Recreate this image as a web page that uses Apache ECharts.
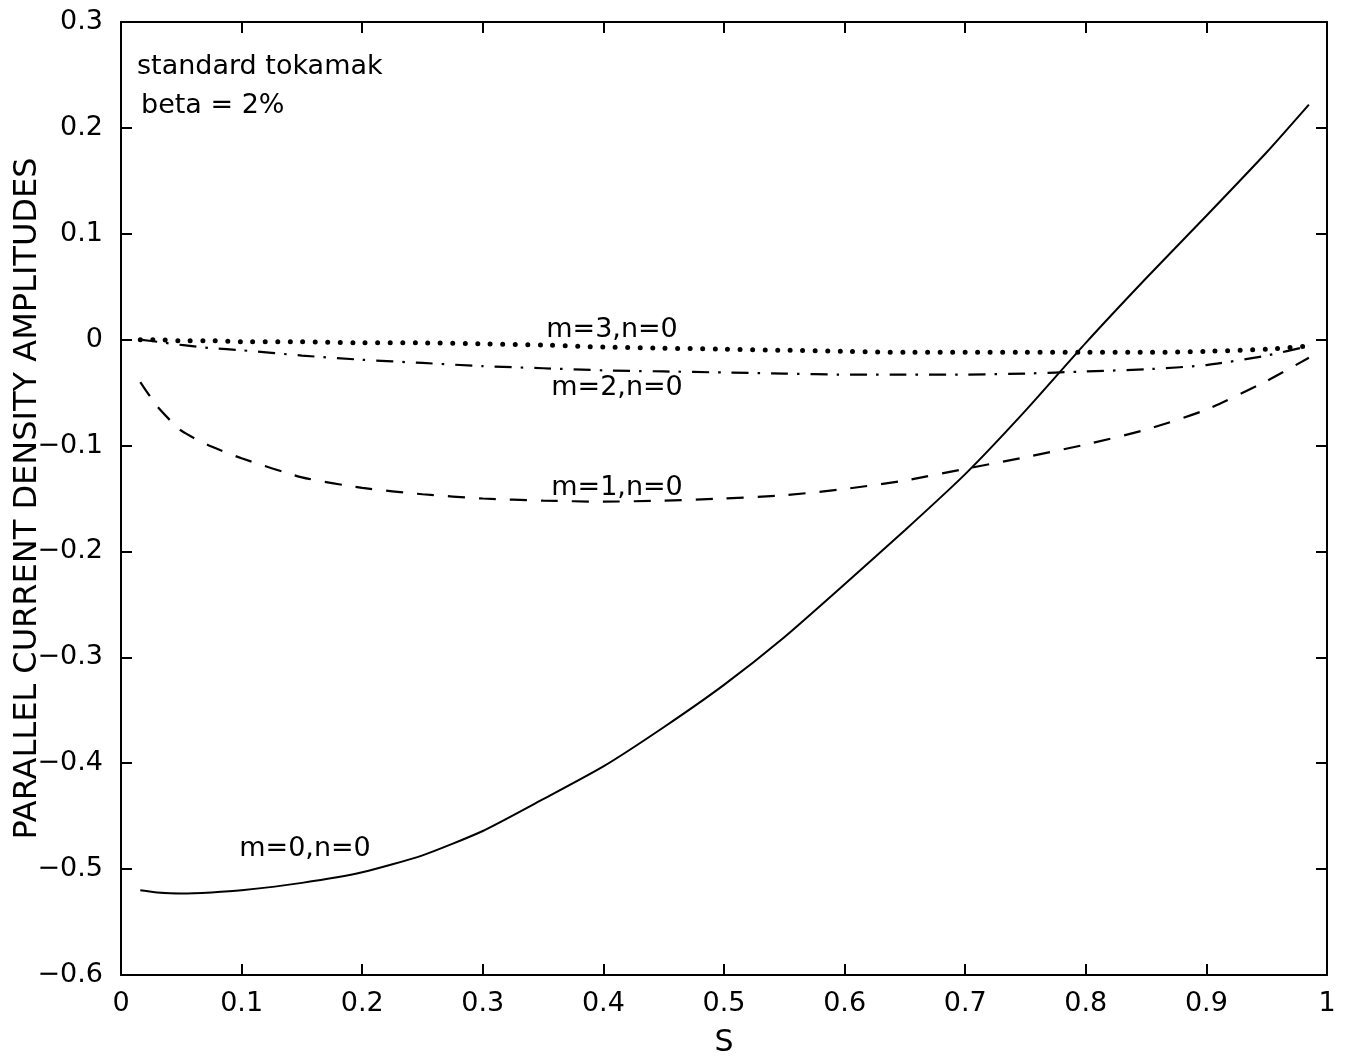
<!DOCTYPE html>
<html>
<head>
<meta charset="utf-8">
<script src="https://cdn.jsdelivr.net/npm/echarts@6/dist/echarts.min.js"></script>
<style>html,body{margin:0;padding:0;background:#fff}#c{width:1348px;height:1056px}</style>
</head>
<body>
<div id="c"></div>
<script>
// radial coordinate S
const sValues = [0.016,0.03,0.05,0.075,0.1,0.15,0.2,0.25,0.3,0.35,0.4,0.45,0.5,0.55,0.6,0.65,0.7,0.75,0.8,0.85,0.9,0.95,0.985];
// parallel current density amplitudes per harmonic
const m0n0 = [-0.520,-0.522,-0.523,-0.522,-0.520,-0.513,-0.503,-0.487,-0.464,-0.434,-0.403,-0.366,-0.326,-0.281,-0.231,-0.180,-0.127,-0.067,-0.003,0.058,0.117,0.177,0.222];
const m1n0 = [-0.040,-0.063,-0.086,-0.101,-0.112,-0.130,-0.140,-0.146,-0.150,-0.152,-0.153,-0.152,-0.150,-0.147,-0.141,-0.133,-0.122,-0.111,-0.099,-0.085,-0.066,-0.039,-0.017];
const m2n0 = [0.000,-0.002,-0.005,-0.008,-0.010,-0.015,-0.019,-0.022,-0.025,-0.027,-0.029,-0.030,-0.031,-0.032,-0.033,-0.033,-0.033,-0.032,-0.030,-0.028,-0.024,-0.015,-0.006];
const m3n0 = [0.000,0.000,-0.001,-0.001,-0.002,-0.002,-0.003,-0.003,-0.004,-0.005,-0.007,-0.008,-0.009,-0.010,-0.011,-0.012,-0.012,-0.012,-0.012,-0.012,-0.011,-0.009,-0.006];
const xTickLabels = ['0','0.1','0.2','0.3','0.4','0.5','0.6','0.7','0.8','0.9','1'];
const yTickLabels = ['−0.6','−0.5','−0.4','−0.3','−0.2','−0.1','0','0.1','0.2','0.3'];

const FONT = 'DejaVu Sans';
const pairs = arr => sValues.map((s, i) => [s, arr[i]]);
const xLabel = v => xTickLabels[Math.round(v * 10)];
const yLabel = v => yTickLabels[Math.round(v * 10) + 6];

const axisCommon = {
  axisLine: { show: true, onZero: false, lineStyle: { color: '#000', width: 2 } },
  axisTick: { show: true, inside: true, length: 11, lineStyle: { color: '#000', width: 2 } },
  splitLine: { show: false }
};

const chart = echarts.init(document.getElementById('c'), null, { renderer: 'canvas' });
const lineBase = { type: 'line', showSymbol: false, symbol: 'none', smooth: 0.2, z: 3 };
const textStyle = { fill: '#000', fontFamily: FONT, fontSize: 27 };

chart.setOption({
  animation: false,
  backgroundColor: '#fff',
  grid: { left: 121, right: 21, top: 22, bottom: 81, containLabel: false, outerBoundsMode: 'none' },
  xAxis: [
    Object.assign({}, axisCommon, {
      type: 'value', min: 0, max: 1, interval: 0.1, position: 'bottom',
      name: 'S', nameLocation: 'middle', nameGap: 53,
      nameTextStyle: { color: '#000', fontFamily: FONT, fontSize: 30 },
      axisLabel: { color: '#000', fontFamily: FONT, fontSize: 27, margin: 15, formatter: xLabel }
    }),
    Object.assign({}, axisCommon, {
      type: 'value', min: 0, max: 1, interval: 0.1, position: 'top',
      axisLabel: { show: false }
    })
  ],
  yAxis: [
    Object.assign({}, axisCommon, {
      type: 'value', min: -0.6, max: 0.3, interval: 0.1, position: 'left',
      name: 'PARALLEL CURRENT DENSITY AMPLITUDES', nameLocation: 'middle', nameGap: 77, nameRotate: 90,
      nameMoveOverlap: false,
      nameTextStyle: { color: '#000', fontFamily: FONT, fontSize: 32 },
      axisLabel: { color: '#000', fontFamily: FONT, fontSize: 27, margin: 18, formatter: yLabel }
    }),
    Object.assign({}, axisCommon, {
      type: 'value', min: -0.6, max: 0.3, interval: 0.1, position: 'right',
      axisLabel: { show: false }
    })
  ],
  series: [
    Object.assign({}, lineBase, { name: 'm=0,n=0', data: pairs(m0n0),
      lineStyle: { color: '#000', width: 2, type: 'solid' } }),
    Object.assign({}, lineBase, { name: 'm=1,n=0', data: pairs(m1n0),
      lineStyle: { color: '#000', width: 2.2, type: [17, 14] } }),
    Object.assign({}, lineBase, { name: 'm=2,n=0', data: pairs(m2n0),
      lineStyle: { color: '#000', width: 2.2, type: [17, 9, 2.5, 11] } }),
    Object.assign({}, lineBase, { name: 'm=3,n=0', data: pairs(m3n0),
      lineStyle: { color: '#000', width: 5, type: [0, 12.5], cap: 'round' } })
  ],
  graphic: [
    { type: 'text', left: 137, top: 53, style: Object.assign({ text: 'standard tokamak' }, textStyle) },
    { type: 'text', left: 141, top: 92, style: Object.assign({ text: 'beta = 2%' }, textStyle) },
    { type: 'text', x: 612, y: 330, style: Object.assign({ text: 'm=3,n=0', align: 'center', verticalAlign: 'middle' }, textStyle) },
    { type: 'text', x: 617, y: 388, style: Object.assign({ text: 'm=2,n=0', align: 'center', verticalAlign: 'middle' }, textStyle) },
    { type: 'text', x: 617, y: 488, style: Object.assign({ text: 'm=1,n=0', align: 'center', verticalAlign: 'middle' }, textStyle) },
    { type: 'text', x: 305, y: 849, style: Object.assign({ text: 'm=0,n=0', align: 'center', verticalAlign: 'middle' }, textStyle) }
  ]
});
</script>
</body>
</html>
